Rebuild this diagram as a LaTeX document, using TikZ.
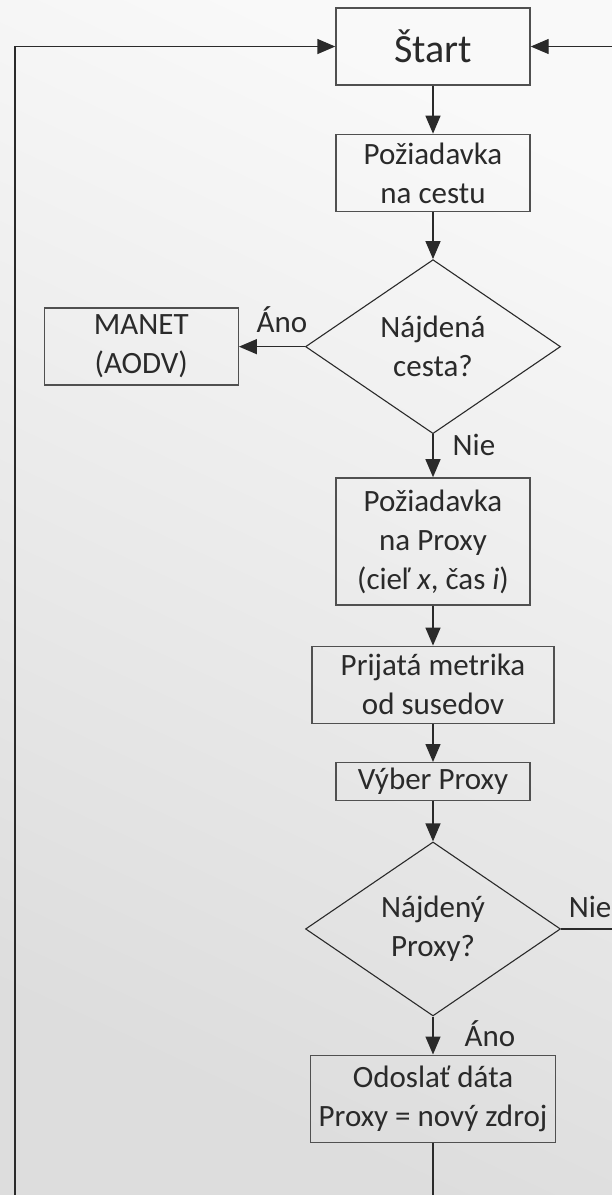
\documentclass[tikz,border=0pt]{standalone}
\usepackage{fontspec}
\setmainfont{Carlito}
\usetikzlibrary{positioning, arrows.meta, shapes.geometric}
\definecolor{linegray}{HTML}{2A2A2A}
\definecolor{boxgray}{HTML}{505050}
\tikzstyle{process} = [rectangle, draw=boxgray, line width=1.4pt, minimum width=194pt, minimum height=77pt, inner sep=3pt, align=center, text=linegray, font=\fontsize{31}{39}\selectfont]
\tikzstyle{decision} = [diamond, draw=linegray, line width=1.1pt, minimum width=255pt, minimum height=174pt, inner sep=0pt, align=center, text=linegray, font=\fontsize{31}{39}\selectfont]
\tikzstyle{arrow} = [line width=1.4pt, draw=linegray, -{Triangle[length=18pt, width=15pt]}]
\tikzstyle{answer} = [font=\fontsize{31}{39}\selectfont, inner sep=2pt, text=linegray]

\begin{document}
\begin{tikzpicture}[x=1pt, y=1pt, node distance=48pt]

  % Background (the flowchart runs past its edges)
  \useasboundingbox (0,0) rectangle (612,-1195);
  \clip (0,0) rectangle (612,-1195);
  \shade[top color=gray!5, bottom color=gray!27, shading angle=-25] (0,0) rectangle (612,-1195);

  % Main column
  \node (start) [process, font=\fontsize{40}{48}\selectfont] at (433,-46.5) {Štart};
  \node (askroute) [process, below=48pt of start] {Požiadavka\\na cestu};
  \node (routeq) [decision, below=47pt of askroute] {Nájdená\\cesta?};
  \node (manet) [process, left=66pt of routeq] {MANET\\(AODV)};
  \node (askproxy) [process, below=43pt of routeq, minimum height=127pt] {Požiadavka\\na Proxy\\(cieľ \textit{x}, čas \textit{i})};
  \node (metric) [process, below=40pt of askproxy, minimum width=242pt] {Prijatá metrika\\od susedov};
  \node (choose) [process, below=38pt of metric, minimum height=38pt] {Výber Proxy};
  \node (proxyq) [decision, below=40pt of choose] {Nájdený\\Proxy?};
  \node (send) [process, below=38pt of proxyq, minimum width=245pt, minimum height=87pt] {Odoslať dáta\\Proxy = nový zdroj};

  % Turning points of the two loops back to start
  \coordinate (loopbottom) at (send.south |- 0,-1230);
  \coordinate (loopleft) at (15,-1230);
  \coordinate (loopright) at (proxyq.east -| 640,0);

  % Arrows - main flow
  \draw[arrow] (start) -- (askroute);
  \draw[arrow] (askroute) -- (routeq);
  \draw[arrow] (routeq) -- node[answer, pos=0.35, anchor=base, yshift=14pt] {Áno} (manet);
  \draw[arrow] (routeq) -- node[answer, midway, anchor=base west, xshift=17pt] {Nie} (askproxy);
  \draw[arrow] (askproxy) -- (metric);
  \draw[arrow] (metric) -- (choose);
  \draw[arrow] (choose) -- (proxyq);
  \draw[arrow] (proxyq) -- node[answer, pos=0.79, anchor=base west, xshift=29pt] {Áno} (send);

  % Loops
  \draw[arrow] (proxyq.east) -- node[answer, pos=0, anchor=base west, xshift=5pt, yshift=11pt] {Nie} (loopright) |- (start);
  \draw[arrow] (send) -- (loopbottom) -- (loopleft) |- (start);

\end{tikzpicture}
\end{document}
